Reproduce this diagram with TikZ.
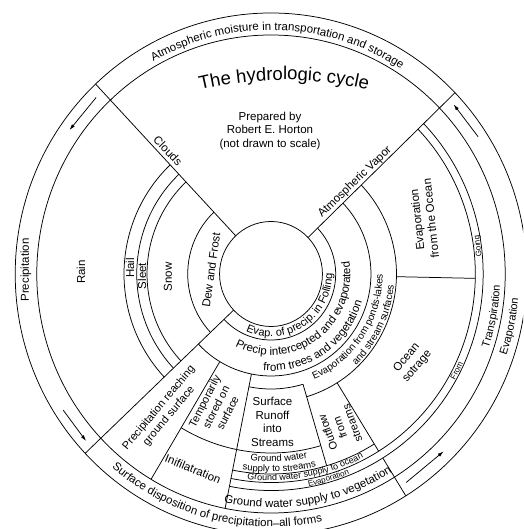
\documentclass[tikz,border=0pt]{standalone}
\usepackage{fontspec}
\setmainfont{Liberation Sans}
\usetikzlibrary{decorations.text,arrows.meta}
\newcommand\ccwtext[5]{\path[decorate,decoration={text along path,text align=center,text={|\fontsize{#4}{#4}\selectfont|#5}}] ({#2-#3}:#1) arc[start angle={#2-#3},end angle={#2+#3},radius=#1];}
\newcommand\cwtext[5]{\path[decorate,decoration={text along path,text align=center,text={|\fontsize{#4}{#4}\selectfont|#5}}] ({#2+#3}:#1) arc[start angle={#2+#3},end angle={#2-#3},radius=#1];}
\tikzset{
  ln/.style={line width=0.75pt},
  lbl/.style={font=\fontsize{11.5}{13.7}\selectfont,inner sep=0pt,align=center},
  lbls/.style={font=\fontsize{11}{13}\selectfont,inner sep=0pt,align=center},
  flow/.style={line width=0.75pt,-{Latex[length=6pt,width=3.6pt]}}
}
\begin{document}
\begin{tikzpicture}[x=0.98pt,y=1pt]
\useasboundingbox (-271pt,-255pt) rectangle (252pt,274pt);
\clip (-271pt,-255pt) rectangle (252pt,274pt);
% circles
\draw[ln] (0,0) circle[radius=52.5];
\draw[ln] (0,0) circle[radius=239];
\draw[ln] (0,0) circle[radius=261];
% lower/right arcs
\draw[ln] (223.4:66) arc[start angle=223.4,end angle=404,radius=66];
\draw[ln] (223.4:102) arc[start angle=223.4,end angle=404,radius=102];
\draw[ln] (286.5:128) arc[start angle=286.5,end angle=404,radius=128];
\draw[ln] (258.7:115) arc[start angle=258.7,end angle=286.5,radius=115];
\draw[ln] (239.2:179) arc[start angle=239.2,end angle=286.5,radius=179];
\draw[ln] (258.7:200) arc[start angle=258.7,end angle=301.8,radius=200];
\draw[ln] (258.7:208.5) arc[start angle=258.7,end angle=404,radius=208.5];
\draw[ln] (258.7:216.5) arc[start angle=258.7,end angle=404,radius=216.5];
% left arcs
\foreach \r in {85,126.5,137,150}
  \draw[ln] (133.3:\r) arc[start angle=133.3,end angle=223.4,radius=\r];
% radial lines
\draw[ln] (44:52.5) -- (44:261);
\draw[ln] (133.3:52.5) -- (133.3:261);
\draw[ln] (223.4:52.5) -- (223.4:261);
\draw[ln] (239.2:102) -- (239.2:239);
\draw[ln] (258.7:102) -- (258.7:239);
\draw[ln] (286.5:115) -- (286.5:200);
\draw[ln] (301.8:128) -- (301.8:208.5);
\draw[ln] (301.8:216.5) -- (301.8:261);
\draw[ln] (358.8:128) -- (358.8:208.5);
% flow arrows
\coordinate (a1s) at (135.3:251); \coordinate (a1e) at (145:251);
\coordinate (a2s) at (212.7:252); \coordinate (a2e) at (221.5:252);
\coordinate (a3s) at (303.5:250); \coordinate (a3e) at (314.8:250);
\coordinate (a4s) at (33:252);    \coordinate (a4e) at (42.3:252);
\draw[flow] (a1s) -- (a1e);
\draw[flow] (a2s) -- (a2e);
\draw[flow] (a3s) -- (a3e);
\draw[flow] (a4s) -- (a4e);
% title
\path[decorate,decoration={text along path,text align=center,text={|\fontsize{18.5}{18.5}\selectfont|The hydrologic cycle}}]
  ([shift={(13pt,-164pt)}]115:358pt) arc[start angle=115,end angle=65,radius=358pt];
% curved ring texts
\cwtext{244}{88.3}{50}{11.5}{Atmospheric moisture in transportation and storage}
\ccwtext{62.5}{303}{70}{11}{Evap. of precip. in Folling}
\ccwtext{81}{306}{75}{11.5}{Precip intercepted and evaporated}
\ccwtext{97}{304}{75}{11.5}{from trees and vegetation}
\ccwtext{114}{326}{60}{10}{Evaporation from ponds-lakes}
\ccwtext{126}{334}{50}{10}{and stream surfaces}
\ccwtext{253}{256}{30}{11.5}{Surface disposition of precipitation–all forms}
\ccwtext{233.5}{280}{25}{11.5}{Ground water supply to vegetation}
\ccwtext{215.5}{286}{15}{8}{Evaporation}
\ccwtext{206.5}{280.2}{25}{9}{Ground water supply to ocean}
\ccwtext{187.5}{272.5}{15}{9.5}{Ground water}
\ccwtext{198}{272.5}{15}{9.5}{supply to streams}
\ccwtext{215.5}{7.5}{12}{8}{Going}
\ccwtext{215.5}{333}{12}{8}{From}
\ccwtext{234}{349.4}{20}{11}{Transpiration}
\ccwtext{253.5}{347.9}{20}{11}{Evaporation}
% straight labels
\node[lbl] (prep) at (-1pt,143pt) {Prepared by\\Robert E. Horton\\(not drawn to scale)};
\node[lbl,rotate=-46.7] (clouds) at (-103pt,123pt) {Clouds};
\node[lbl,rotate=44] (vapor) at (84pt,92pt) {Atmospheric Vapor};
\node[lbl,rotate=90] (rain) at (-190pt,2pt) {Rain};
\node[lbl,rotate=90] (precip) at (-245pt,4pt) {Precipitation};
\node[lbl,rotate=90] (hail) at (-141pt,6pt) {Hail};
\node[lbl,rotate=90] (sleet) at (-129pt,-2pt) {Sleet};
\node[lbl,rotate=90] (snow) at (-103pt,-3pt) {Snow};
\node[lbl,rotate=82] (dew) at (-60pt,4pt) {Dew and Frost};
\node[lbls,rotate=50] (reach) at (-107pt,-138pt) {Precipitation reaching\\ground surface};
\node[lbls,rotate=63] (temp) at (-55pt,-133pt) {Temporarily\\stored on\\surface};
\node[lbl,rotate=-22] (infil) at (-78pt,-195pt) {Inifilatration};
\node[lbl] (runoff) at (1.5pt,-148pt) {Surface\\Runoff\\into\\Streams};
\node[lbls,rotate=110] (outflow) at (69pt,-154pt) {Outflow\\from\\streams};
\node[lbl,rotate=50] (ocean) at (141pt,-88pt) {Ocean\\sotrage};
\node[lbl,rotate=96] (evocean) at (153pt,55pt) {Evaporation\\from the Ocean};
\end{tikzpicture}
\end{document}
